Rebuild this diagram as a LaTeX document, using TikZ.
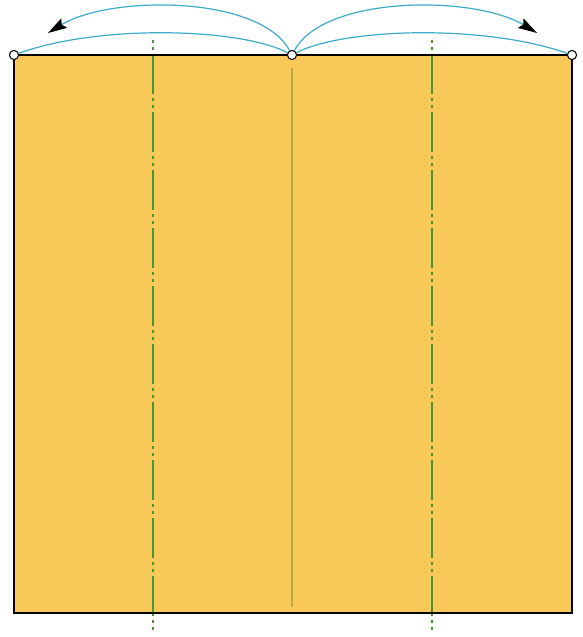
\documentclass[tikz,border=0pt]{standalone}
\usetikzlibrary{arrows.meta}
\definecolor{paper}{RGB}{248,200,88}
\definecolor{axisgreen}{RGB}{70,150,50}
\definecolor{foldline}{RGB}{185,170,70}
\definecolor{arccol}{RGB}{60,170,200}
\tikzset{
  pivot/.style={circle,draw=black,fill=white,line width=0.9pt,inner sep=0pt,minimum size=9pt},
  axisline/.style={axisgreen,line width=1.3pt,dash pattern=on 40pt off 4pt on 3pt off 4pt on 3pt off 4pt,dash phase=44pt},
  swing/.style={arccol,line width=1.2pt},
  swingarrow/.style={swing,-{Stealth[length=19pt,width=11pt,inset=3pt,black]}}
}
\begin{document}
\begin{tikzpicture}[x=1pt,y=-1pt]
\useasboundingbox (0,0) rectangle (583,637);
% sheet
\fill[paper] (14,55) rectangle (572,613);
% centre fold
\draw[foldline,line width=1.1pt] (292,68) -- (292,607);
% dash-dot axes
\draw[axisline] (153,40) -- (153,632);
\draw[axisline] (432,40) -- (432,632);
% border
\draw[black,line width=1.3pt] (14,55) rectangle (572,613);
% pivots
\node[pivot] (L) at (14,55) {};
\node[pivot] (C) at (292,55) {};
\node[pivot] (R) at (572,55) {};
\coordinate (LA) at (48,33);
\coordinate (RA) at (537,33);
% arcs
\draw[swing] (C) .. controls (240,28) and (100,24) .. (L);
\draw[swing] (C) .. controls (344,28) and (484,24) .. (R);
\draw[swingarrow] (C) .. controls (260,-5) and (110,-5) .. (LA);
\draw[swingarrow] (C) .. controls (324,-5) and (474,-5) .. (RA);
% redraw pivots on top
\node[pivot] at (14,55) {};
\node[pivot] at (292,55) {};
\node[pivot] at (572,55) {};
\end{tikzpicture}
\end{document}
